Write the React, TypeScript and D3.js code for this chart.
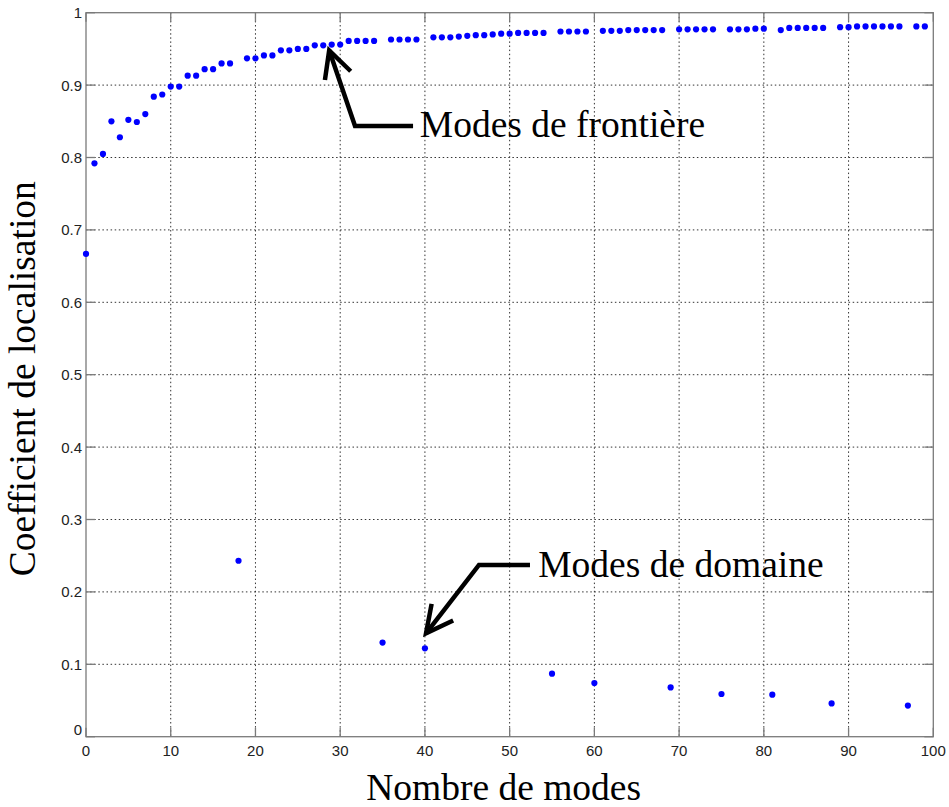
import React from "react";
import * as d3 from "d3";

const frontierModes = [0,1,2,3,4,5,6,7,8,9,10,11,12,13,14,15,16,17,19,20,21,22,23,24,25,26,27,28,29,30,31,32,33,34,36,37,38,39,41,42,43,44,45,46,47,48,49,50,51,52,53,54,56,57,58,59,61,62,63,64,65,66,67,68,70,71,72,73,74,76,77,78,79,80,82,83,84,85,86,87,89,90,91,92,93,94,95,96,98,99];
const frontierCoef = [0.667,0.792,0.805,0.850,0.828,0.852,0.849,0.860,0.884,0.887,0.898,0.898,0.913,0.913,0.922,0.922,0.930,0.930,0.937,0.937,0.941,0.941,0.948,0.948,0.950,0.950,0.955,0.955,0.956,0.956,0.961,0.961,0.961,0.961,0.963,0.963,0.963,0.963,0.966,0.966,0.966,0.967,0.968,0.969,0.969,0.970,0.971,0.971,0.972,0.972,0.972,0.972,0.974,0.974,0.974,0.974,0.975,0.975,0.975,0.976,0.976,0.976,0.976,0.976,0.977,0.977,0.977,0.977,0.977,0.977,0.977,0.977,0.978,0.978,0.976,0.979,0.979,0.979,0.979,0.979,0.980,0.980,0.981,0.981,0.981,0.981,0.981,0.981,0.981,0.981];

const domainModes = [18,35,40,55,60,69,75,81,88,97];
const domainCoef = [0.243,0.130,0.122,0.087,0.074,0.068,0.059,0.058,0.046,0.043];

const xTicks = [0,10,20,30,40,50,60,70,80,90,100];
const yTicks = [0,0.1,0.2,0.3,0.4,0.5,0.6,0.7,0.8,0.9,1];
const yTickLabels = ["0","0.1","0.2","0.3","0.4","0.5","0.6","0.7","0.8","0.9","1"];

const xLabel = "Nombre de modes";
const yLabel = "Coefficient de localisation";
const annFrontier = { text: "Modes de frontière", tip: [28.7, 0.948], elbow: [31.75, 0.8435], end: [38.6, 0.8435], textPos: [39.4, 0.829] };
const annDomain = { text: "Modes de domaine", tip: [40.13, 0.1428], elbow: [46.38, 0.2372], end: [52.4, 0.2372], textPos: [53.38, 0.221] };

const W = 949, H = 807;
const L = 86, R = 933.3, T = 12.7, B = 736.7;

export default function App() {
  const x = d3.scaleLinear().domain([0, 100]).range([L, R]);
  const y = d3.scaleLinear().domain([0, 1]).range([B, T]);
  const axisColor = "#7a7a7a";
  const gridColor = "#333";
  const serif = "'Liberation Serif', 'Times New Roman', serif";
  const sans = "'Liberation Sans', Arial, sans-serif";
  const tickLen = 9;

  const arrow = (a: typeof annFrontier) => {
    const tx = x(a.tip[0]), ty = y(a.tip[1]);
    const ex = x(a.elbow[0]), ey = y(a.elbow[1]);
    const nx = x(a.end[0]), ny = y(a.end[1]);
    const ang = Math.atan2(ey - ty, ex - tx);
    const bl = 30, spread = (27 * Math.PI) / 180;
    const b1 = [tx + bl * Math.cos(ang + spread), ty + bl * Math.sin(ang + spread)];
    const b2 = [tx + bl * Math.cos(ang - spread), ty + bl * Math.sin(ang - spread)];
    return (
      <g stroke="#000" strokeWidth={4.5} fill="none" strokeLinejoin="miter" strokeLinecap="butt">
        <polyline points={`${nx},${ny} ${ex},${ey} ${tx},${ty}`} />
        <polyline points={`${b1[0]},${b1[1]} ${tx},${ty} ${b2[0]},${b2[1]}`} />
      </g>
    );
  };

  return (
    <svg width={W} height={H} style={{ position: "absolute", left: 0, top: 0, background: "#fff" }}>
      <rect x={0} y={0} width={W} height={H} fill="#fff" />
      <g stroke={gridColor} strokeWidth={1} strokeDasharray="1.5,2.6">
        {xTicks.slice(1, -1).map((t) => (
          <line key={"gx" + t} x1={x(t)} x2={x(t)} y1={T} y2={B} />
        ))}
        {yTicks.slice(1, -1).map((t) => (
          <line key={"gy" + t} x1={L} x2={R} y1={y(t)} y2={y(t)} />
        ))}
      </g>
      <rect x={L} y={T} width={R - L} height={B - T} fill="none" stroke={axisColor} strokeWidth={1.3} />
      <g stroke={axisColor} strokeWidth={1.3}>
        {xTicks.map((t) => (
          <g key={"tx" + t}>
            <line x1={x(t)} x2={x(t)} y1={B} y2={B - tickLen} />
            <line x1={x(t)} x2={x(t)} y1={T} y2={T + tickLen} />
          </g>
        ))}
        {yTicks.map((t) => (
          <g key={"ty" + t}>
            <line x1={L} x2={L + tickLen} y1={y(t)} y2={y(t)} />
            <line x1={R} x2={R - tickLen} y1={y(t)} y2={y(t)} />
          </g>
        ))}
      </g>
      <g fontFamily={sans} fontSize={15} fill="#222">
        {xTicks.map((t) => (
          <text key={"lx" + t} x={x(t)} y={B + 19} textAnchor="middle">{t}</text>
        ))}
        {yTicks.map((t, i) => (
          <text key={"ly" + t} x={L - 4} y={y(t) - (i === 0 ? 2 : -5.5)} textAnchor="end">{yTickLabels[i]}</text>
        ))}
      </g>
      <g fill="#0000ff">
        {frontierModes.map((m, i) => (
          <circle key={"f" + m} cx={x(m)} cy={y(frontierCoef[i])} r={3.1} />
        ))}
        {domainModes.map((m, i) => (
          <circle key={"d" + m} cx={x(m)} cy={y(domainCoef[i])} r={3.1} />
        ))}
      </g>
      {arrow(annFrontier)}
      {arrow(annDomain)}
      <g fontFamily={serif} fontSize={37.5} fill="#000">
        <text x={x(annFrontier.textPos[0])} y={y(annFrontier.textPos[1])}>{annFrontier.text}</text>
        <text x={x(annDomain.textPos[0])} y={y(annDomain.textPos[1])}>{annDomain.text}</text>
        <text x={(L + R) / 2 - 6} y={800} textAnchor="middle">{xLabel}</text>
        <text transform={`translate(35, ${(T + B) / 2 + 4}) rotate(-90)`} textAnchor="middle">{yLabel}</text>
      </g>
    </svg>
  );
}
